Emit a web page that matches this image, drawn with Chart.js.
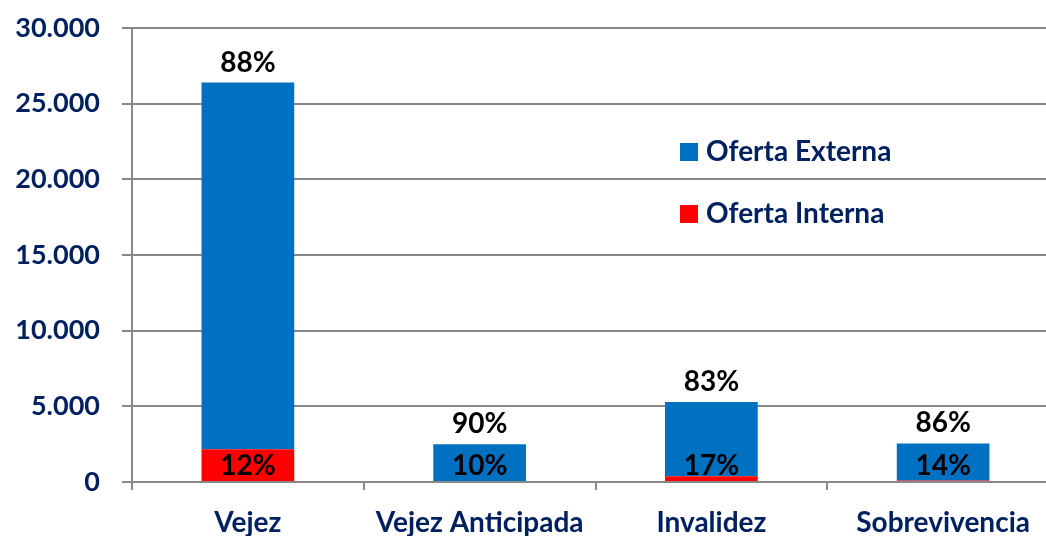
<!DOCTYPE html>
<html lang="es">
<head>
  <meta charset="UTF-8">
  <title>Oferta Interna / Externa</title>
  <script src="https://cdn.jsdelivr.net/npm/chart.js"></script>
  <style>
    html, body { margin: 0; padding: 0; overflow: hidden; background: #fff; }
    #caja { width: 1062px; height: 536px; position: relative; }
  </style>
</head>
<body>
  <div id="caja"><canvas id="grafico"></canvas></div>

  <script>
    const categorias = ['Vejez', 'Vejez Anticipada', 'Invalidez', 'Sobrevivencia'];
    const ofertaInterna = [2170, 70, 380, 100];
    const ofertaExterna = [24230, 2430, 4910, 2450];
    const pctInterna = ['12%', '10%', '17%', '14%'];
    const pctExterna = ['88%', '90%', '83%', '86%'];
    const ticksY = [0, 5000, 10000, 15000, 20000, 25000, 30000];

    const azulTexto = '#002060';
    const fuente = 'Lato, "DejaVu Sans", sans-serif';

    // etiquetas de porcentaje y leyenda dibujadas a mano
    const etiquetas = {
      id: 'etiquetas',
      afterDatasetsDraw(chart) {
        const ctx = chart.ctx;
        const y = chart.scales.y;
        const metaExt = chart.getDatasetMeta(1);
        ctx.save();
        ctx.font = 'bold 28px ' + fuente;
        ctx.fillStyle = '#000';
        ctx.textAlign = 'center';
        ctx.textBaseline = 'middle';
        metaExt.data.forEach((bar, i) => {
          ctx.fillText(pctExterna[i], bar.x, bar.y - 20);
          ctx.fillText(pctInterna[i], bar.x, y.getPixelForValue(0) - 16);
        });

        // leyenda
        const items = [chart.data.datasets[1], chart.data.datasets[0]];
        ctx.textAlign = 'left';
        items.forEach((ds, i) => {
          const cy = 152 + i * 62;
          ctx.fillStyle = ds.backgroundColor;
          ctx.fillRect(680, cy - 9, 18, 18);
          ctx.fillStyle = azulTexto;
          ctx.fillText(ds.label, 706, cy);
        });
        ctx.restore();
      }
    };

    new Chart(document.getElementById('grafico'), {
      type: 'bar',
      data: {
        labels: categorias,
        datasets: [
          { label: 'Oferta Interna', data: ofertaInterna, backgroundColor: '#FF0000' },
          { label: 'Oferta Externa', data: ofertaExterna, backgroundColor: '#0070C0' }
        ]
      },
      options: {
        responsive: true,
        maintainAspectRatio: false,
        animation: false,
        layout: { padding: { top: 28, right: 3, bottom: 0, left: 0 } },
        datasets: { bar: { barPercentage: 0.4, categoryPercentage: 1 } },
        plugins: { legend: { display: false }, tooltip: { enabled: false } },
        scales: {
          x: {
            stacked: true,
            grid: { display: true, drawOnChartArea: false, drawTicks: true, tickLength: 8, offset: true, color: '#888', lineWidth: 2 },
            border: { display: false },
            ticks: { color: azulTexto, font: { family: fuente, size: 28, weight: 'bold' }, padding: 16, maxRotation: 0 },
            afterFit(s) { s.height = 54; s.paddingLeft = 0; s.paddingRight = 0; }
          },
          y: {
            stacked: true,
            min: 0,
            max: 30000,
            afterBuildTicks(s) { s.ticks = ticksY.map(v => ({ value: v })); },
            grid: { color: '#888', lineWidth: 2, tickLength: 10 },
            border: { display: true, color: '#888', width: 2 },
            ticks: {
              color: azulTexto,
              font: { family: fuente, size: 27, weight: 'bold' },
              padding: 22,
              callback: v => v.toLocaleString('de-DE')
            },
            afterFit(s) { s.width = 132; s.paddingTop = 0; s.paddingBottom = 0; }
          }
        }
      },
      plugins: [etiquetas]
    });
  </script>
</body>
</html>
